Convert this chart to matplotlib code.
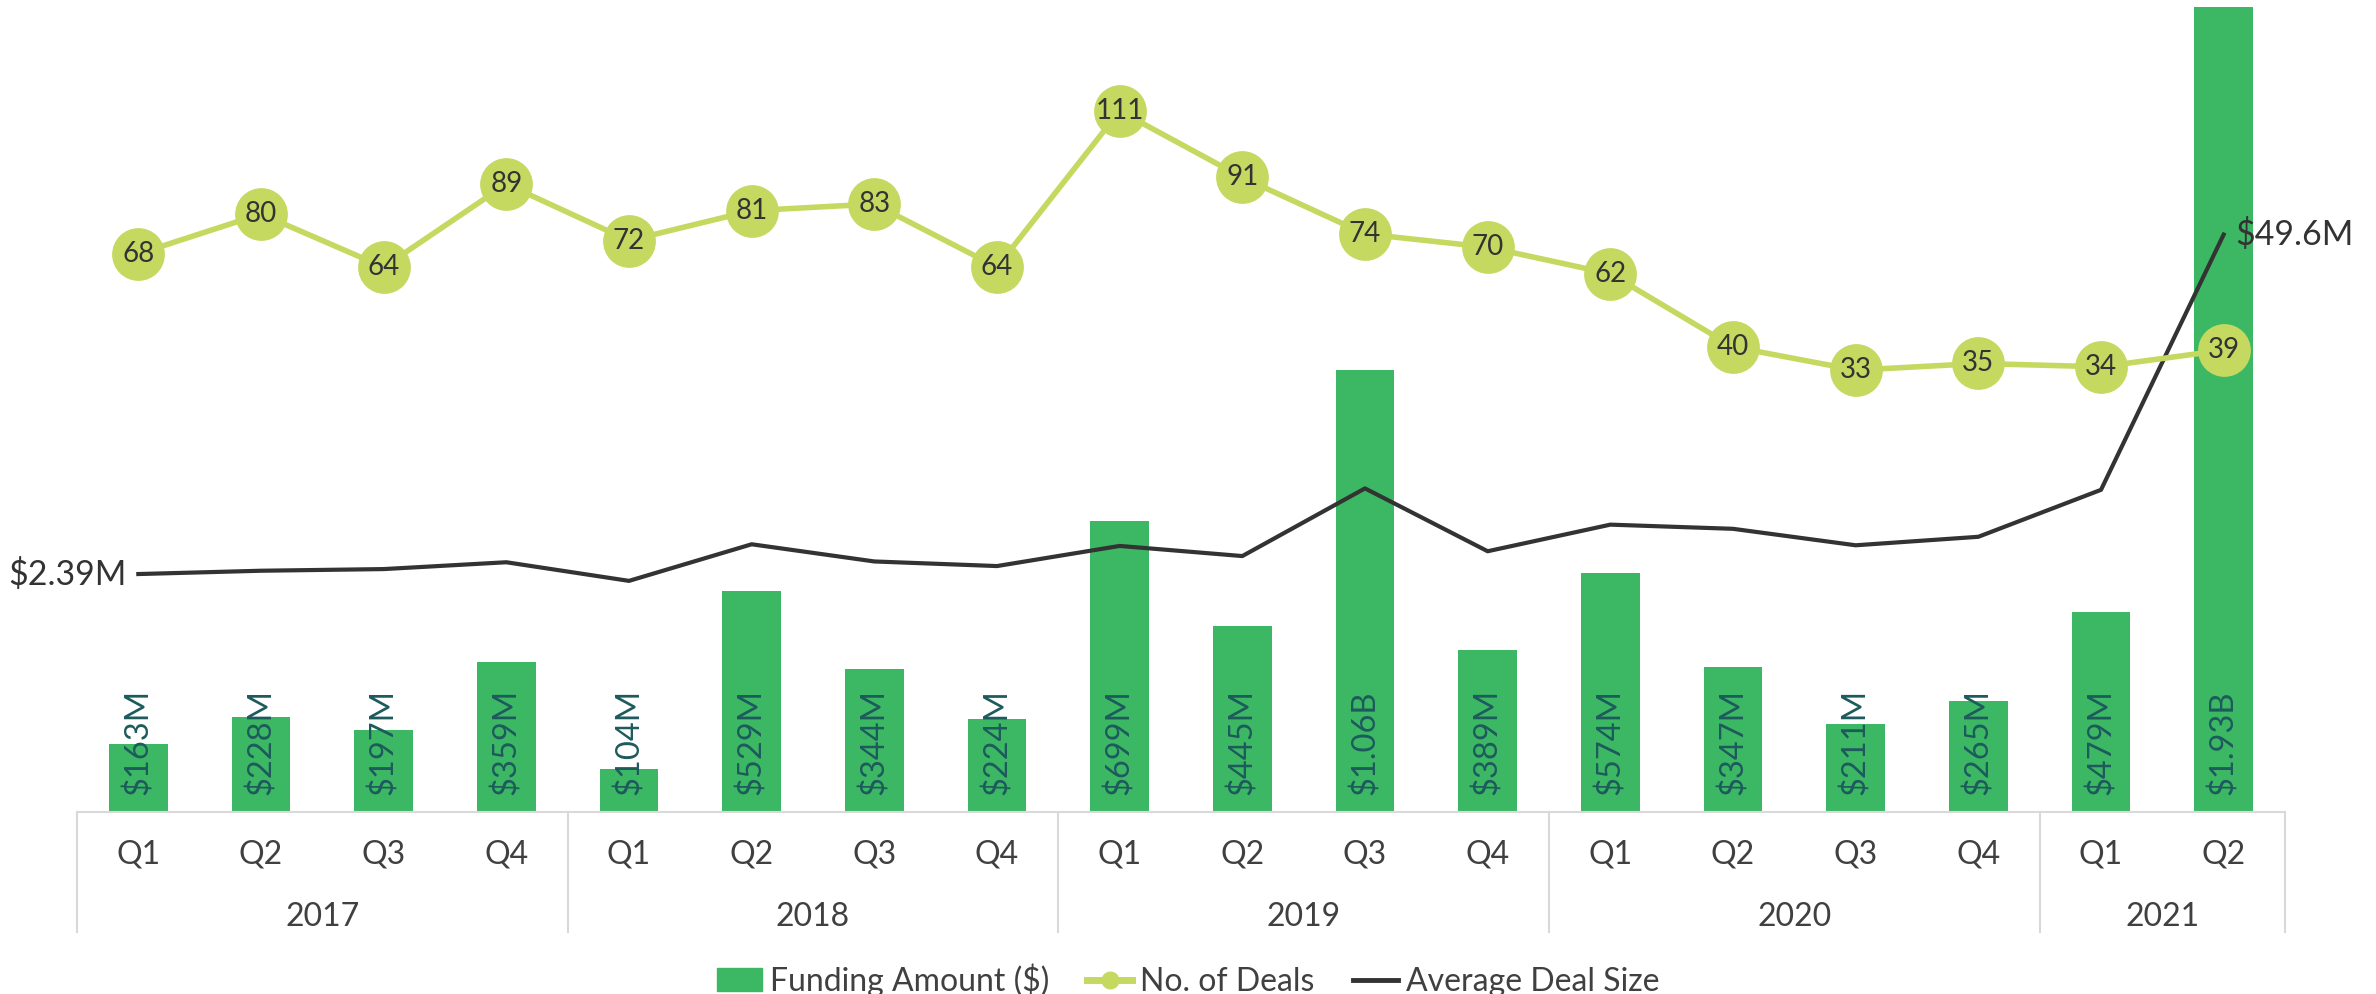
import matplotlib
matplotlib.use("Agg")
import matplotlib.pyplot as plt
import matplotlib.transforms as mtransforms
from matplotlib.lines import Line2D
from matplotlib.patches import Patch

plt.rcParams['font.family'] = ['Lato', 'DejaVu Sans']

years = ["2017", "2018", "2019", "2020", "2021"]
quarters_per_year = [4, 4, 4, 4, 2]
quarters = ["Q1", "Q2", "Q3", "Q4"] * 4 + ["Q1", "Q2"]

# funding in $M
funding = [163, 228, 197, 359, 104, 529, 344, 224, 699, 445, 1060, 389,
           574, 347, 211, 265, 479, 1930]
funding_labels = ["$163M", "$228M", "$197M", "$359M", "$104M", "$529M", "$344M", "$224M",
                  "$699M", "$445M", "$1.06B", "$389M", "$574M", "$347M", "$211M", "$265M",
                  "$479M", "$1.93B"]
deals = [68, 80, 64, 89, 72, 81, 83, 64, 111, 91, 74, 70, 62, 40, 33, 35, 34, 39]
# average deal size in $M
avg_size = [2.39, 2.85, 3.08, 4.03, 1.44, 6.53, 4.14, 3.50, 6.30, 4.89, 14.3, 5.56,
            9.26, 8.68, 6.39, 7.57, 14.1, 49.6]

bar_color = "#3cb864"
deal_color = "#c5d961"
avg_color = "#333333"
text_color = "#404040"
label_teal = "#1d5a5c"
sep_color = "#d9d9d9"

fig = plt.figure(figsize=(23.76, 9.94), dpi=100)
ax = fig.add_axes([77 / 2376, 1 - 812 / 994, (2285 - 77) / 2376, 809 / 994])
x = list(range(len(funding)))

ax.bar(x, funding, width=0.48, color=bar_color, zorder=2)
ax.set_xlim(-0.5, len(funding) - 0.5)
ax.set_ylim(0, 1940)
for xi, lab in zip(x, funding_labels):
    ax.annotate(lab, (xi, 0), xytext=(0, 17), textcoords="offset pixels",
                rotation=90, ha="center", va="bottom", fontsize=23.5,
                color=label_teal, zorder=3)

for s in ["top", "right", "left"]:
    ax.spines[s].set_visible(False)
ax.spines["bottom"].set_color(sep_color)
ax.spines["bottom"].set_linewidth(1.5)
ax.set_yticks([])
ax.set_xticks(x)
ax.set_xticklabels(quarters, fontsize=23, color=text_color)
ax.tick_params(axis="x", length=0, pad=20)

# year group separators and labels
trans = mtransforms.blended_transform_factory(ax.transData, ax.transAxes)
edges = [-0.5]
for n in quarters_per_year:
    edges.append(edges[-1] + n)
for e in edges:
    ax.plot([e, e], [0, -0.148], transform=trans, color=sep_color, lw=1.5, clip_on=False)
for i, yr in enumerate(years):
    ax.text((edges[i] + edges[i + 1]) / 2, -0.13, yr, transform=trans,
            ha="center", va="center", fontsize=23, color=text_color)

# number of deals
ax2 = ax.twinx()
ax2.plot(x, deals, color=deal_color, lw=4, marker="o", markersize=38,
         markerfacecolor=deal_color, markeredgewidth=0, zorder=4)
for xi, d in zip(x, deals):
    ax2.text(xi, d, str(d), ha="center", va="center", fontsize=20, color="#333333", zorder=5)
ax2.set_ylim(-100, 143.5)
ax2.set_xlim(-0.5, len(funding) - 0.5)
ax2.axis("off")

# average deal size
ax3 = ax.twinx()
ax3.plot(x, avg_size, color=avg_color, lw=3, zorder=3)
ax3.set_ylim(-30.7, 81.8)
ax3.set_xlim(-0.5, len(funding) - 0.5)
ax3.axis("off")
ax3.annotate("$2.39M", (x[0], avg_size[0]), xytext=(-12, 0), textcoords="offset pixels",
             ha="right", va="center", fontsize=24.5, color=avg_color)
ax3.annotate("$49.6M", (x[-1], avg_size[-1]), xytext=(12, 0), textcoords="offset pixels",
             ha="left", va="center", fontsize=24.5, color=avg_color)
ax2.set_zorder(ax3.get_zorder() + 1)

handles = [Patch(color=bar_color),
           Line2D([0], [0], color=deal_color, lw=5, marker="o", markersize=12),
           Line2D([0], [0], color=avg_color, lw=3.5)]
fig.legend(handles, ["Funding Amount ($)", "No. of Deals", "Average Deal Size"],
           loc="center", bbox_to_anchor=(0.5, 1 - 980 / 994), ncol=3, frameon=False,
           fontsize=23, labelcolor=text_color, handlelength=1.4, handletextpad=0.25,
           columnspacing=1.2)

fig.savefig("out.png", dpi=100)
